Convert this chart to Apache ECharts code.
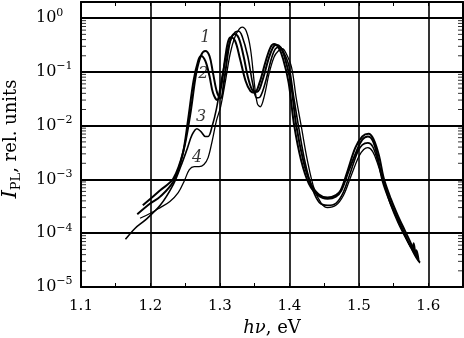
<!DOCTYPE html>
<html>
<head>
<meta charset="utf-8">
<script src="https://cdn.jsdelivr.net/npm/echarts@6/dist/echarts.min.js"></script>
<style>
  html, body { margin: 0; padding: 0; background: #fff; }
  #chart { width: 464px; height: 338px; }
</style>
</head>
<body>
<div id="chart"></div>
<script>
// photon energy (eV) and PL intensity (rel. units)
const energy1 = [1.189, 1.214, 1.233, 1.247, 1.257, 1.266, 1.273, 1.279, 1.285, 1.290, 1.296, 1.301, 1.306, 1.312, 1.316, 1.321, 1.327, 1.334, 1.341, 1.348, 1.354, 1.361, 1.370, 1.376, 1.381, 1.387, 1.394, 1.402, 1.410, 1.420, 1.430, 1.442, 1.455, 1.467, 1.474, 1.484, 1.495, 1.505, 1.514, 1.521, 1.529, 1.536, 1.546, 1.556, 1.566, 1.575, 1.578, 1.579, 1.582, 1.583, 1.586]
const intensity1 = [3.3e-4, 6.3e-4, 1.04e-3, 3.2e-3, 0.0153, 0.096, 0.206, 0.245, 0.198, 0.096, 0.041, 0.032, 0.068, 0.245, 0.426, 0.51, 0.43, 0.198, 0.074, 0.044, 0.043, 0.068, 0.174, 0.28, 0.32, 0.29, 0.174, 0.0625, 0.01, 0.00225, 0.00088, 0.00053, 0.00046, 0.00051, 0.00063, 0.00147, 0.0039, 0.0063, 0.0071, 0.0057, 0.0028, 0.00104, 0.00044, 0.000215, 0.000114, 0.000065, 0.000051, 0.000065, 0.000039, 0.000048, 0.000032]

const energy2 = [1.181, 1.200, 1.214, 1.233, 1.246, 1.254, 1.262, 1.269, 1.273, 1.279, 1.285, 1.290, 1.296, 1.302, 1.308, 1.312, 1.316, 1.322, 1.329, 1.337, 1.344, 1.350, 1.357, 1.366, 1.373, 1.378, 1.384, 1.391, 1.399, 1.407, 1.417, 1.428, 1.441, 1.455, 1.467, 1.475, 1.485, 1.497, 1.505, 1.513, 1.520, 1.527, 1.534, 1.544, 1.555, 1.565, 1.573, 1.581, 1.585]
const intensity2 = [2.25e-4, 3.6e-4, 4.8e-4, 9.2e-4, 0.0028, 0.0124, 0.068, 0.167, 0.198, 0.16, 0.084, 0.041, 0.030, 0.055, 0.198, 0.375, 0.44, 0.375, 0.174, 0.068, 0.044, 0.041, 0.0625, 0.16, 0.29, 0.33, 0.29, 0.174, 0.0625, 0.01, 0.00225, 0.00084, 0.00051, 0.00044, 0.00048, 0.00063, 0.0014, 0.0034, 0.0055, 0.0063, 0.0053, 0.00267, 0.00096, 0.00041, 0.000198, 0.000104, 0.0000625, 0.0000445, 0.000034]

const energy3 = [1.164, 1.178, 1.192, 1.214, 1.233, 1.244, 1.253, 1.260, 1.267, 1.273, 1.279, 1.283, 1.289, 1.295, 1.302, 1.309, 1.316, 1.322, 1.327, 1.332, 1.340, 1.347, 1.353, 1.358, 1.366, 1.374, 1.380, 1.386, 1.391, 1.399, 1.406, 1.413, 1.423, 1.433, 1.443, 1.455, 1.467, 1.477, 1.487, 1.498, 1.505, 1.513, 1.520, 1.527, 1.536, 1.546, 1.556, 1.566, 1.575, 1.582, 1.588]
const intensity3 = [7.7e-5, 1.24e-4, 1.74e-4, 3.3e-4, 8.1e-4, 0.0018, 0.00375, 0.0068, 0.0088, 0.0077, 0.0063, 0.0063, 0.01, 0.0206, 0.068, 0.198, 0.41, 0.55, 0.57, 0.46, 0.198, 0.0625, 0.033, 0.0344, 0.068, 0.174, 0.27, 0.29, 0.245, 0.135, 0.036, 0.01, 0.00198, 0.00068, 0.000375, 0.00033, 0.00036, 0.00055, 0.00124, 0.0032, 0.0044, 0.0048, 0.0041, 0.00225, 0.00088, 0.00036, 0.000174, 0.000092, 0.000055, 0.0000375, 0.000029]

const energy4 = [1.185, 1.200, 1.214, 1.228, 1.240, 1.249, 1.256, 1.263, 1.270, 1.277, 1.283, 1.289, 1.295, 1.301, 1.308, 1.315, 1.322, 1.328, 1.332, 1.338, 1.344, 1.350, 1.354, 1.358, 1.364, 1.371, 1.378, 1.384, 1.390, 1.395, 1.403, 1.410, 1.417, 1.426, 1.436, 1.446, 1.455, 1.467, 1.478, 1.488, 1.500, 1.507, 1.513, 1.520, 1.527, 1.536, 1.546, 1.556, 1.566, 1.575, 1.583, 1.588]
const intensity4 = [1.9e-4, 2.35e-4, 3.0e-4, 3.9e-4, 5.7e-4, 9.6e-4, 0.00153, 0.00174, 0.00174, 0.0019, 0.00255, 0.0053, 0.0124, 0.0225, 0.068, 0.225, 0.46, 0.63, 0.68, 0.57, 0.27, 0.055, 0.0255, 0.0225, 0.036, 0.096, 0.19, 0.245, 0.27, 0.225, 0.124, 0.032, 0.01, 0.00225, 0.00065, 0.00036, 0.0003, 0.00033, 0.00051, 0.00109, 0.00267, 0.0036, 0.0039, 0.0033, 0.00198, 0.00084, 0.00033, 0.00016, 0.000088, 0.000053, 0.000034, 0.0000278]

// curve numbers written next to the first peak
const curveNames = ['1', '2', '3', '4']
const curveNameEnergy = [1.279, 1.276, 1.273, 1.267]
const curveNameIntensity = [0.43, 0.092, 0.0147, 0.00255]

// axes
const xMin = 1.1, xMax = 1.65
const yMin = 1e-5, yMax = 2
const mantissas = [2, 3, 4, 5, 6, 7, 8, 9]
const decades = [1e-5, 1e-4, 1e-3, 1e-2, 1e-1]

const SERIF = '"DejaVu Serif", "Liberation Serif", serif'

const zip = (xs, ys) => xs.map((x, i) => [x, ys[i]])

const minorY = []
decades.forEach(d => mantissas.forEach(m => minorY.push(m * d)))

const chart = echarts.init(document.getElementById('chart'))

const curve = (xs, ys, w) => ({
    type: 'line',
    data: zip(xs, ys),
    showSymbol: false,
    smooth: 0.35,
    lineStyle: { color: '#000', width: w },
    silent: true
})

chart.setOption({
    animation: false,
    backgroundColor: '#fff',
    grid: { left: 81, right: 1, top: 2, bottom: 51, outerBoundsMode: 'none', containLabel: false },
    xAxis: [
        {
            type: 'value', min: xMin, max: xMax, interval: 0.1,
            name: '{i|hν}{r|, eV}',
            nameLocation: 'middle', nameGap: 30,
            nameTextStyle: {
                rich: {
                    i: { fontFamily: SERIF, fontSize: 18, fontStyle: 'italic', color: '#000' },
                    r: { fontFamily: SERIF, fontSize: 18, color: '#000' }
                }
            },
            axisLine: { show: true, lineStyle: { color: '#000', width: 2 } },
            axisTick: { show: false },
            splitLine: { show: true, lineStyle: { color: '#000', width: 1.6 } },
            axisLabel: {
                fontFamily: SERIF, fontSize: 15, color: '#000', margin: 12,
                showMaxLabel: false,
                formatter: v => Math.abs(v * 10 - Math.round(v * 10)) > 1e-6 ? '' : v.toFixed(1)
            }
        },
        {
            type: 'value', min: xMin, max: xMax, interval: 0.05, position: 'top',
            axisLine: { show: true, lineStyle: { color: '#000', width: 2 } },
            axisTick: { show: true, inside: true, length: 4, lineStyle: { color: '#000', width: 1 } },
            axisLabel: { show: false }, splitLine: { show: false }
        },
        {
            type: 'value', min: xMin, max: xMax, interval: 0.05, position: 'bottom',
            axisLine: { show: false },
            axisTick: { show: true, inside: true, length: 4, lineStyle: { color: '#000', width: 1 } },
            axisLabel: { show: false }, splitLine: { show: false }
        }
    ],
    yAxis: [
        {
            type: 'log', logBase: 10, min: yMin, max: yMax,
            name: '{i|I}{s|PL}{r|, rel. units}',
            nameLocation: 'middle', nameGap: 58, nameRotate: 90,
            nameTextStyle: {
                padding: [0, 0, 0, 11],
                rich: {
                    i: { fontFamily: SERIF, fontSize: 21, fontStyle: 'italic', color: '#000', lineHeight: 24 },
                    s: { fontFamily: SERIF, fontSize: 13, color: '#000', verticalAlign: 'bottom', lineHeight: 16 },
                    r: { fontFamily: SERIF, fontSize: 18, color: '#000', lineHeight: 24 }
                }
            },
            axisLine: { show: true, lineStyle: { color: '#000', width: 2 } },
            axisTick: { show: false },
            splitLine: { show: true, lineStyle: { color: '#000', width: 2 } },
            axisLabel: {
                align: 'left', margin: 45,
                formatter: v => {
                    const l = Math.log10(v), e = Math.round(l)
                    if (Math.abs(l - e) > 1e-6) return ''
                    return '{b|10}{s|' + (e < 0 ? '\u2212' + (-e) : e) + '}'
                },
                rich: {
                    b: { fontFamily: SERIF, fontSize: 16, color: '#000', lineHeight: 22 },
                    s: { fontFamily: SERIF, fontSize: 11, color: '#000', lineHeight: 12, verticalAlign: 'top' }
                }
            }
        },
        {
            type: 'log', logBase: 10, min: yMin, max: yMax, position: 'right',
            axisLine: { show: true, lineStyle: { color: '#000', width: 2 } },
            axisTick: { show: false }, axisLabel: { show: false }, splitLine: { show: false }
        }
    ],
    series: [
        curve(energy1, intensity1, 2),
        curve(energy2, intensity2, 2),
        curve(energy3, intensity3, 1.6),
        curve(energy4, intensity4, 1.3),
        {
            type: 'scatter', silent: true, clip: false,
            data: minorY.map(v => [xMin, v]),
            symbol: 'rect', symbolSize: [5, 1], symbolOffset: [2.5, 0],
            itemStyle: { color: '#000' }
        },
        {
            type: 'scatter', silent: true, clip: false,
            data: minorY.map(v => [xMax, v]),
            symbol: 'rect', symbolSize: [5, 1], symbolOffset: [-2.5, 0],
            itemStyle: { color: '#000' }
        },
        {
            type: 'scatter', silent: true, symbolSize: 0,
            data: curveNames.map((n, i) => ({ name: n, value: [curveNameEnergy[i], curveNameIntensity[i]] })),
            label: {
                show: true, position: 'inside', formatter: p => p.name,
                fontFamily: SERIF, fontSize: 16, fontStyle: 'italic', color: '#000'
            }
        }
    ]
})
</script>
</body>
</html>
